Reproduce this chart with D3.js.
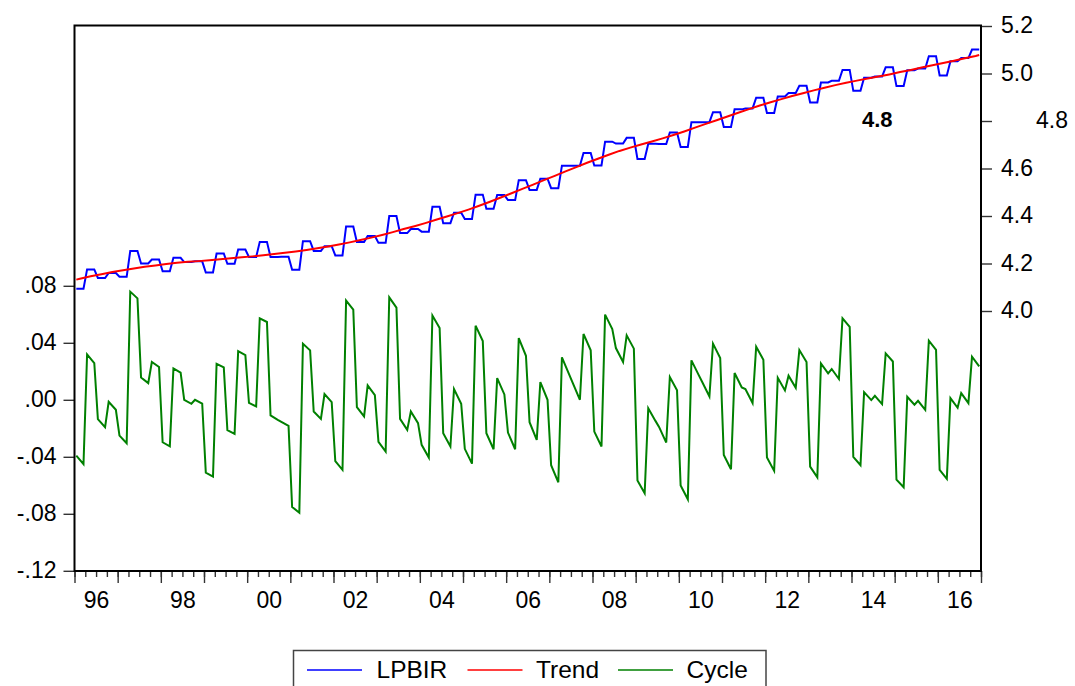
<!DOCTYPE html>
<html>
<head>
<meta charset="utf-8">
<script src="https://cdn.jsdelivr.net/npm/d3@7"></script>
<style>
  html, body { margin: 0; padding: 0; background: #fff; }
  svg { display: block; font-family: "Liberation Sans", Arial, Helvetica, sans-serif; }
</style>
</head>
<body>
<svg id="chart" width="1075" height="686"></svg>
<script>
// ---------------- DATA (quarterly, 1996Q1 - 2016Q4, plotted on a monthly axis) ----------------
const startYear = 1996;
const endYear = 2016;
const yearTickLabels = ["96","98","00","02","04","06","08","10","12","14","16"];
const leftTicks = [0.08, 0.04, 0.00, -0.04, -0.08, -0.12];
const rightTicks = [4.0, 4.2, 4.4, 4.6, 4.8, 5.0, 5.2];
const seriesNames = ["LPBIR", "Trend", "Cycle"];

const lpbir = [
  4.094, 4.175, 4.139, 4.160,
  4.144, 4.253, 4.200, 4.217,
  4.167, 4.224, 4.206, 4.209,
  4.162, 4.242, 4.199, 4.259,
  4.227, 4.291, 4.227, 4.228,
  4.174, 4.294, 4.253, 4.273,
  4.234, 4.356, 4.291, 4.316,
  4.287, 4.400, 4.328, 4.345,
  4.334, 4.439, 4.370, 4.414,
  4.387, 4.490, 4.431, 4.488,
  4.467, 4.551, 4.510, 4.557,
  4.517, 4.612, 4.612, 4.665,
  4.613, 4.713, 4.705, 4.729,
  4.640, 4.704, 4.703, 4.752,
  4.691, 4.795, 4.795, 4.837,
  4.775, 4.849, 4.853, 4.898,
  4.834, 4.903, 4.918, 4.948,
  4.878, 4.962, 4.969, 5.015,
  4.927, 4.982, 4.987, 5.026,
  4.947, 5.014, 5.021, 5.073,
  4.992, 5.052, 5.065, 5.101
];

// HP trend, mid-month of each quarter
const trend = [
  4.136, 4.146, 4.155, 4.164,
  4.172, 4.179, 4.186, 4.192,
  4.198, 4.203, 4.207, 4.210,
  4.214, 4.218, 4.222, 4.226,
  4.230, 4.235, 4.240, 4.245,
  4.251, 4.257, 4.264, 4.272,
  4.280, 4.289, 4.299, 4.309,
  4.320, 4.332, 4.345, 4.357,
  4.370, 4.384, 4.398, 4.412,
  4.427, 4.443, 4.460, 4.478,
  4.496, 4.514, 4.532, 4.551,
  4.569, 4.588, 4.606, 4.624,
  4.641, 4.658, 4.674, 4.688,
  4.701, 4.714, 4.727, 4.741,
  4.756, 4.772, 4.788, 4.803,
  4.819, 4.835, 4.850, 4.865,
  4.879, 4.892, 4.905, 4.917,
  4.929, 4.940, 4.951, 4.961,
  4.970, 4.979, 4.987, 4.996,
  5.006, 5.015, 5.025, 5.035,
  5.044, 5.054, 5.064, 5.074
];
// trend at the very first and very last month
const trendFirstMonth = 4.132;
const trendLastMonth = 5.078;

// cycle at first month of each quarter
const cycleStart = [
  -0.0392, 0.0319, -0.0136, -0.0014,
  -0.0251, 0.0759, 0.0157, 0.0265,
  -0.0298, 0.0220, 0.0000, 0.0000,
  -0.0511, 0.0253, -0.0213, 0.0342,
  -0.0021, 0.0572, -0.0110, -0.0155,
  -0.0752, 0.0394, -0.0082, 0.0040,
  -0.0431, 0.0696, -0.0052, 0.0101,
  -0.0295, 0.0719, -0.0134, -0.0082,
  -0.0316, 0.0591, -0.0234, 0.0075,
  -0.0344, 0.0520, -0.0234, 0.0152,
  -0.0230, 0.0433, -0.0157, 0.0124,
  -0.0459, 0.0298, 0.0119, 0.0462,
  -0.0223, 0.0598, 0.0363, 0.0452,
  -0.0567, -0.0059, -0.0190, 0.0159,
  -0.0602, 0.0277, 0.0125, 0.0394,
  -0.0387, 0.0188, 0.0075, 0.0373,
  -0.0405, 0.0155, 0.0169, 0.0349,
  -0.0469, 0.0255, 0.0216, 0.0572,
  -0.0401, 0.0054, 0.0028, 0.0326,
  -0.0560, 0.0021, -0.0007, 0.0415,
  -0.0492, 0.0012, 0.0047, 0.0302
];

// cycle at last month of each quarter
const cycleEnd = [
  -0.0451, 0.0258, -0.0192, -0.0070,
  -0.0305, 0.0712, 0.0117, 0.0230,
  -0.0326, 0.0190, -0.0028, -0.0026,
  -0.0539, 0.0227, -0.0239, 0.0314,
  -0.0047, 0.0546, -0.0141, -0.0183,
  -0.0792, 0.0347, -0.0134, -0.0016,
  -0.0492, 0.0633, -0.0117, 0.0033,
  -0.0363, 0.0647, -0.0211, -0.0164,
  -0.0405, 0.0504, -0.0328, -0.0028,
  -0.0448, 0.0412, -0.0347, 0.0038,
  -0.0347, 0.0309, -0.0281, 0.0000,
  -0.0579, 0.0179, 0.0000, 0.0347,
  -0.0328, 0.0497, 0.0265, 0.0359,
  -0.0656, -0.0148, -0.0300, 0.0066,
  -0.0698, 0.0175, 0.0023, 0.0293,
  -0.0487, 0.0087, -0.0023, 0.0281,
  -0.0499, 0.0066, 0.0084, 0.0265,
  -0.0544, 0.0185, 0.0146, 0.0511,
  -0.0459, -0.0002, -0.0030, 0.0269,
  -0.0614, -0.0035, -0.0070, 0.0351,
  -0.0555, -0.0056, -0.0023, 0.0234
];

// ---------------- LAYOUT ----------------
const W = 1075, H = 686;
const frame = { left: 74.5, right: 981, top: 25.5, bottom: 571 };
const nMonths = (endYear - startYear + 1) * 12;
const FONT = 23;

const svg = d3.select("#chart");

const x = d3.scaleLinear().domain([0, nMonths]).range([frame.left, frame.right]);
const yL = d3.scaleLinear().domain([-0.12, 0.08]).range([570.8, 285.8]);
const yR = d3.scaleLinear().domain([4.0, 5.2]).range([311, 26]);

// build plotted points: month index centre = m + 0.5
const bluePts = [], trendPts = [], cyclePts = [];
lpbir.forEach((v, q) => {
  bluePts.push([3*q + 0.5, v]);
  bluePts.push([3*q + 2.5, v]);
});
trendPts.push([0.5, trendFirstMonth]);
trend.forEach((v, q) => trendPts.push([3*q + 1.5, v]));
trendPts.push([nMonths - 0.5, trendLastMonth]);
cycleStart.forEach((v, q) => {
  cyclePts.push([3*q + 0.5, v]);
  cyclePts.push([3*q + 2.5, cycleEnd[q]]);
});

// ---------------- AXES ----------------
const tickColor = "#333";

function leftFmt(v) {
  const s = Math.abs(v).toFixed(2).replace(/^0/, "");
  return (v < 0 ? "-" : "") + s;
}

const gL = svg.append("g").attr("transform", `translate(${frame.left},0)`)
  .call(d3.axisLeft(yL).tickValues(leftTicks).tickSize(11).tickPadding(7).tickFormat(leftFmt));
const gR = svg.append("g").attr("transform", `translate(${frame.right},0)`)
  .call(d3.axisRight(yR).tickValues(rightTicks).tickSize(11).tickPadding(9).tickFormat(d3.format(".1f")));

// quarter (minor) and year (major) ticks on x
const quarterTicks = d3.range(0, nMonths + 1, 3);
const yearTicks = d3.range(0, nMonths + 1, 12);
const labelMonths = yearTickLabels.map((_, i) => i * 24 + 6);

const gXm = svg.append("g").attr("transform", `translate(0,${frame.bottom})`)
  .call(d3.axisBottom(x).tickValues(quarterTicks).tickSize(6).tickFormat(""));
const gXM = svg.append("g").attr("transform", `translate(0,${frame.bottom})`)
  .call(d3.axisBottom(x).tickValues(yearTicks).tickSize(12).tickFormat(""));
const gXL = svg.append("g").attr("transform", `translate(0,${frame.bottom})`)
  .call(d3.axisBottom(x).tickValues(labelMonths).tickSize(0).tickPadding(21)
        .tickFormat((d, i) => yearTickLabels[i]));

[gL, gR, gXm, gXM, gXL].forEach(g => {
  g.select(".domain").remove();
  g.selectAll(".tick line").attr("stroke", tickColor).attr("stroke-width", 1.4);
  g.selectAll(".tick text").attr("fill", "#000").style("font-size", FONT + "px")
    .style("font-family", '"Liberation Sans", Arial, sans-serif');
});
gL.selectAll(".tick text").attr("dy", "0.3em");
gR.selectAll(".tick text").attr("dy", "0.3em");
// the 4.8 label on the right axis sits further right in the original
gR.selectAll(".tick").filter(d => Math.abs(d - 4.8) < 1e-9).select("text")
  .attr("x", 55);

// ---------------- LINES ----------------
svg.append("clipPath").attr("id", "plotclip").append("rect")
  .attr("x", frame.left).attr("y", frame.top)
  .attr("width", frame.right - frame.left).attr("height", frame.bottom - frame.top);

const plot = svg.append("g").attr("clip-path", "url(#plotclip)");

const lineL = d3.line().x(d => x(d[0])).y(d => yL(d[1]));
const lineR = d3.line().x(d => x(d[0])).y(d => yR(d[1]));

plot.append("path").datum(cyclePts).attr("d", lineL)
  .attr("fill", "none").attr("stroke", "#008000").attr("stroke-width", 2).attr("stroke-linejoin", "miter");
plot.append("path").datum(bluePts).attr("d", lineR)
  .attr("fill", "none").attr("stroke", "#0000FF").attr("stroke-width", 2).attr("stroke-linejoin", "miter");
plot.append("path").datum(trendPts).attr("d", lineR)
  .attr("fill", "none").attr("stroke", "#FF0000").attr("stroke-width", 2);

// frame
svg.append("rect")
  .attr("x", frame.left).attr("y", frame.top)
  .attr("width", frame.right - frame.left).attr("height", frame.bottom - frame.top)
  .attr("fill", "none").attr("stroke", "#000").attr("stroke-width", 2);

// stray bold annotation inside plot
svg.append("text").attr("x", 862).attr("y", 127)
  .style("font-size", "22px").style("font-weight", "bold").attr("fill", "#000")
  .text("4.8");

// ---------------- LEGEND ----------------
const legend = svg.append("g");
legend.append("rect").attr("x", 293.5).attr("y", 650.5).attr("width", 472.5).attr("height", 60)
  .attr("fill", "#fff").attr("stroke", "#444").attr("stroke-width", 1.5);
const legColors = ["#0000FF", "#FF0000", "#008000"];
const legLineX = [307, 467.5, 618];
const legTextX = [376.5, 536, 686.5];
seriesNames.forEach((name, i) => {
  legend.append("line").attr("x1", legLineX[i]).attr("x2", legLineX[i] + 55)
    .attr("y1", 670).attr("y2", 670).attr("stroke", legColors[i]).attr("stroke-width", 1.5);
  legend.append("text").attr("x", legTextX[i]).attr("y", 678)
    .style("font-size", "24.5px").attr("fill", "#000").text(name);
});
</script>
</body>
</html>
